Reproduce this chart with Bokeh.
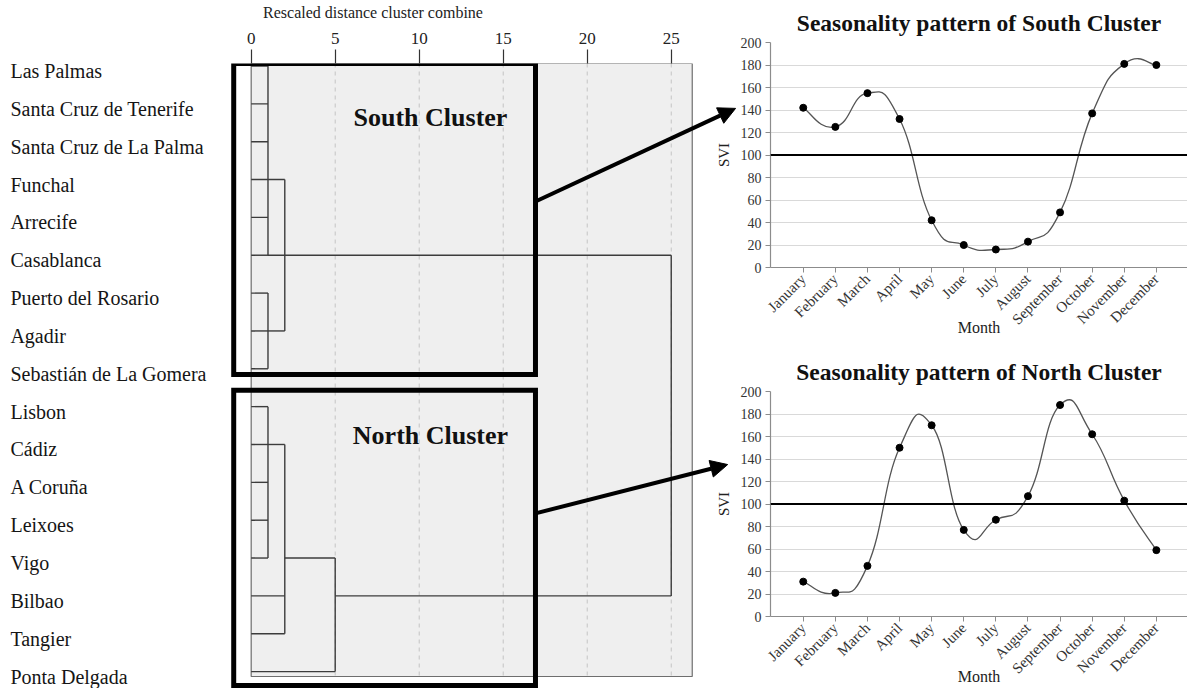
import math
from bokeh.plotting import figure
from bokeh.layouts import row, column
from bokeh.models import Range1d, FixedTicker, Arrow, NormalHead, Span
from bokeh.core.properties import value
from bokeh.embed import file_html
from bokeh.resources import INLINE

FONT = "Liberation Serif"

# ---------------- data ----------------
cities = ["Las Palmas", "Santa Cruz de Tenerife", "Santa Cruz de La Palma", "Funchal",
          "Arrecife", "Casablanca", "Puerto del Rosario", "Agadir", "Sebastián de La Gomera",
          "Lisbon", "Cádiz", "A Coruña", "Leixoes", "Vigo", "Bilbao", "Tangier", "Ponta Delgada"]

# horizontal dendrogram links: row index, start distance, end distance
h_row = [0, 1, 2, 3, 4, 5, 6, 7, 8, 3, 7, 5, 9, 10, 11, 12, 13, 10, 14, 15, 13, 16, 14]
h_from = [0, 0, 0, 0, 0, 0, 0, 0, 0, 1, 1, 1, 0, 0, 0, 0, 0, 1, 0, 0, 2, 0, 5]
h_to = [1, 1, 1, 1, 1, 1, 1, 1, 1, 2, 2, 25, 1, 1, 1, 1, 1, 2, 2, 2, 5, 5, 25]
# vertical dendrogram links: distance, first row, last row
v_dist = [1, 1, 2, 1, 2, 5, 25]
v_top = [0, 6, 3, 9, 10, 13, 5]
v_bot = [5, 8, 7, 13, 15, 16, 14]

dist_ticks = [0, 5, 10, 15, 20, 25]
cluster_names = ["South Cluster", "North Cluster"]
cluster_rows = [[0, 8], [9, 16]]

months = ["January", "February", "March", "April", "May", "June", "July",
          "August", "September", "October", "November", "December"]
south_svi = [142, 125, 155, 132, 42, 20, 16, 23, 49, 137, 181, 180]
north_svi = [31, 21, 45, 150, 170, 77, 86, 107, 188, 162, 103, 59]
svi_ticks = [0, 20, 40, 60, 80, 100, 120, 140, 160, 180, 200]
svi_reference = 100

# ---------------- dendrogram figure ----------------
ROW_TOP = -0.066
ROW_BOTTOM = 16.447
GRAY_RIGHT = 26.25

left = figure(width=745, height=688, x_range=Range1d(-14.92, 29.42),
              y_range=Range1d(ROW_BOTTOM, ROW_TOP),
              x_axis_location="above", y_axis_location=None,
              min_border_left=0, min_border_right=0, min_border_top=63, min_border_bottom=0,
              output_backend="svg", toolbar_location=None)
left.outline_line_color = None
left.grid.visible = False
ax = left.xaxis[0]
ax.ticker = FixedTicker(ticks=dist_ticks, minor_ticks=[])
ax.axis_label = "Rescaled distance cluster combine"
ax.axis_line_color = None
ax.major_tick_out = 14
ax.major_tick_in = 0
ax.major_tick_line_color = "#333333"
ax.major_tick_line_width = 1.2
ax.major_label_standoff = 6
ax.major_label_text_font = FONT
ax.major_label_text_font_size = "17px"
ax.major_label_text_color = "#222222"
ax.axis_label_text_font = FONT
ax.axis_label_text_font_size = "16px"
ax.axis_label_text_font_style = "normal"
ax.axis_label_text_color = "#222222"
ax.axis_label_standoff = 9

gray_bottom = len(cities) - 1 + 0.13
left.quad(left=[0], right=[GRAY_RIGHT], top=[ROW_TOP], bottom=[gray_bottom],
          fill_color="#efefef", line_color="#6e6e6e", line_width=1.2)
grid_x = dist_ticks[1:]
left.segment(x0=grid_x, y0=[ROW_TOP] * len(grid_x), x1=grid_x, y1=[gray_bottom] * len(grid_x),
             line_color="#c4c4c4", line_width=1, line_dash="4 4")

left.segment(x0=h_from, y0=h_row, x1=h_to, y1=h_row, line_color="#3c3c3c", line_width=1.4)
left.segment(x0=v_dist, y0=v_top, x1=v_dist, y1=v_bot, line_color="#3c3c3c", line_width=1.4)

left.text(x=[-14.33] * len(cities), y=list(range(len(cities))), text=cities,
          text_font=value(FONT), text_font_size="20px", text_color="#151515",
          text_baseline="alphabetic", text_align="left", y_offset=5)

# thick cluster boxes
box_left = [-1.04, -1.04]
box_right = [16.92, 16.92]
box_top = [cluster_rows[0][0] + ROW_TOP, cluster_rows[1][0] - 0.43]
box_bottom = [cluster_rows[0][1] + 0.15, cluster_rows[1][1] + 0.37]
left.quad(left=box_left, right=box_right, top=box_top, bottom=box_bottom,
          fill_color=None, line_color="black", line_width=5, line_join="miter")

left.text(x=[10.67, 10.67], y=[1.35, 9.76], text=cluster_names,
          text_font=value(FONT), text_font_size="26px", text_font_style="bold",
          text_color="#111111", text_align="center", text_baseline="middle")

left.add_layout(Arrow(end=NormalHead(size=17, fill_color="black", line_color="black"),
                      x_start=16.92, y_start=3.58, x_end=28.83, y_end=1.12,
                      line_width=4, line_color="black"))
left.add_layout(Arrow(end=NormalHead(size=17, fill_color="black", line_color="black"),
                      x_start=16.92, y_start=11.82, x_end=28.36, y_end=10.53,
                      line_width=4, line_color="black"))


# ---------------- seasonality figures ----------------
def smooth_parts(ys, f=0.25):
    n = len(ys)
    xs = list(range(n))
    out = {k: [] for k in ("x0", "y0", "x1", "y1", "cx0", "cy0", "cx1", "cy1")}
    for i in range(n - 1):
        a = i - 1 if i > 0 else i
        d = i + 2 if i + 2 < n else i + 1
        out["x0"].append(xs[i]); out["y0"].append(ys[i])
        out["x1"].append(xs[i + 1]); out["y1"].append(ys[i + 1])
        out["cx0"].append(xs[i] + f * (xs[i + 1] - xs[a]))
        out["cy0"].append(ys[i] + f * (ys[i + 1] - ys[a]))
        out["cx1"].append(xs[i + 1] - f * (xs[d] - xs[i]))
        out["cy1"].append(ys[i + 1] - f * (ys[d] - ys[i]))
    return out


def season_fig(title, svi, height, top_border, bottom_border):
    p = figure(width=475, height=height, title=title,
               x_range=Range1d(-1.02, 11.97), y_range=Range1d(0, 200),
               min_border_left=58, min_border_right=0, min_border_top=top_border,
               min_border_bottom=bottom_border, output_backend="svg", toolbar_location=None)
    p.border_fill_alpha = 0
    p.outline_line_color = None
    p.title.text_font = FONT
    p.title.text_font_size = "23.5px"
    p.title.text_font_style = "bold"
    p.title.text_color = "#111111"
    p.title.align = "center"
    p.title.standoff = 13

    xa = p.xaxis[0]
    xa.ticker = FixedTicker(ticks=list(range(len(months))), minor_ticks=[])
    xa.major_label_overrides = {i: m for i, m in enumerate(months)}
    xa.major_label_orientation = math.pi / 4
    xa.axis_label = "Month"
    ya = p.yaxis[0]
    ya.ticker = FixedTicker(ticks=svi_ticks, minor_ticks=[])
    ya.axis_label = "SVI"
    for a in (xa, ya):
        a.axis_line_color = "#8c8c8c"
        a.axis_line_width = 1.2
        a.major_tick_line_color = "#8c8c8c"
        a.major_tick_out = 5
        a.major_tick_in = 0
        a.minor_tick_line_color = None
        a.major_label_text_font = FONT
        a.major_label_text_color = "#333333"
        a.axis_label_text_font = FONT
        a.axis_label_text_font_style = "normal"
        a.axis_label_text_color = "#222222"
        a.major_label_standoff = 4
    xa.major_label_text_font_size = "15px"
    ya.major_label_text_font_size = "14px"
    xa.axis_label_text_font_size = "16px"
    ya.axis_label_text_font_size = "15px"
    xa.axis_label_standoff = -17
    ya.axis_label_standoff = 6

    p.xgrid.visible = False
    p.ygrid.ticker = FixedTicker(ticks=svi_ticks, minor_ticks=[])
    p.ygrid.grid_line_color = "#d9d9d9"
    p.ygrid.grid_line_width = 1

    p.add_layout(Span(location=svi_reference, dimension="width", line_color="black", line_width=2))
    parts = smooth_parts(svi)
    p.bezier(source=parts, x0="x0", y0="y0", x1="x1", y1="y1",
             cx0="cx0", cy0="cy0", cx1="cx1", cy1="cy1",
             line_color="#555555", line_width=1.3)
    p.scatter(x=list(range(len(months))), y=svi, size=7, fill_color="black", line_color="black")
    return p


top = season_fig("Seasonality pattern of South Cluster", south_svi, 345, 42, 78)
bottom = season_fig("Seasonality pattern of North Cluster", north_svi, 343, 46, 71)

right = column(top, bottom, spacing=0, margin=(0, 0, 0, -33))
page = row(left, right, spacing=0)

open("out.html", "w").write(file_html(page, INLINE))
